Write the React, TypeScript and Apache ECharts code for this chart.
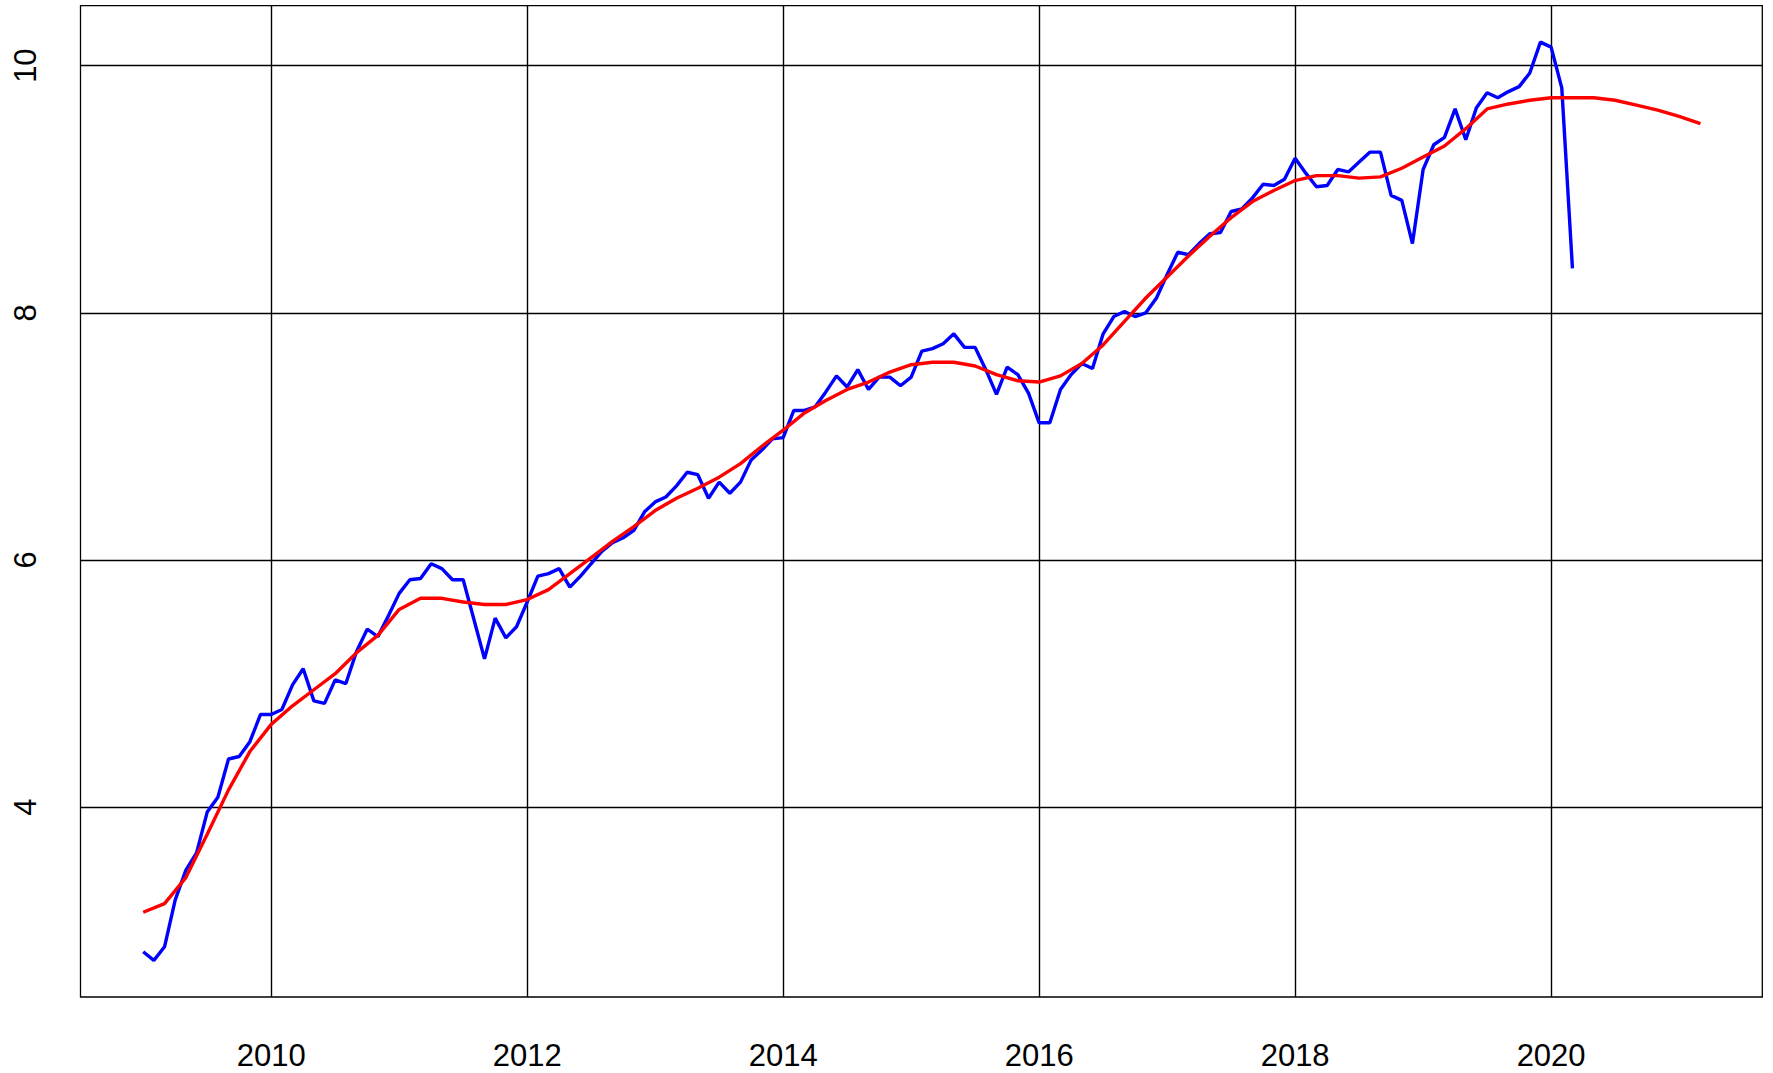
import React, { useEffect, useRef } from "react";
import * as echarts from "echarts";

// Monthly observed series, starting January 2009
const BLUE_START = 2009;
const blueValues = [
  // 2009
  2.83, 2.76, 2.87, 3.25, 3.49, 3.63, 3.96, 4.08, 4.39, 4.41, 4.53, 4.75,
  // 2010
  4.75, 4.79, 4.99, 5.12, 4.86, 4.84, 5.03, 5.0, 5.26, 5.44, 5.38, 5.55,
  // 2011
  5.73, 5.84, 5.85, 5.97, 5.93, 5.84, 5.84, 5.52, 5.2, 5.53, 5.37, 5.46,
  // 2012
  5.66, 5.87, 5.89, 5.93, 5.78, 5.87, 5.97, 6.07, 6.14, 6.18, 6.24, 6.39,
  // 2013
  6.47, 6.51, 6.6, 6.71, 6.69, 6.5, 6.63, 6.54, 6.63, 6.81, 6.89, 6.98,
  // 2014
  6.99, 7.21, 7.21, 7.24, 7.36, 7.49, 7.4, 7.54, 7.38, 7.48, 7.48, 7.41,
  // 2015
  7.48, 7.69, 7.71, 7.75, 7.83, 7.72, 7.72, 7.54, 7.34, 7.56, 7.5, 7.35,
  // 2016
  7.11, 7.11, 7.38, 7.5, 7.59, 7.55, 7.83, 7.97, 8.01, 7.97, 8.0, 8.12,
  // 2017
  8.31, 8.49, 8.47, 8.56, 8.64, 8.65, 8.82, 8.84, 8.93, 9.04, 9.03, 9.08,
  // 2018
  9.25, 9.13, 9.02, 9.03, 9.16, 9.14, 9.22, 9.3, 9.3, 8.95, 8.91, 8.56,
  // 2019
  9.16, 9.36, 9.42, 9.65, 9.4, 9.66, 9.78, 9.74, 9.79, 9.83, 9.94, 10.19,
  // 2020
  10.15, 9.82, 8.36,
];

// Smoothed trend, every two months from January 2009
const RED_START = 2009;
const RED_STEP_MONTHS = 2;
const redValues = [
  3.15, 3.22, 3.43, 3.78, 4.14, 4.45, // 2009
  4.67, 4.82, 4.95, 5.08, 5.25, 5.39, // 2010
  5.6, 5.69, 5.69, 5.66, 5.64, 5.64, // 2011
  5.68, 5.76, 5.89, 6.02, 6.15, 6.27, // 2012
  6.4, 6.5, 6.58, 6.67, 6.78, 6.92, // 2013
  7.05, 7.19, 7.29, 7.38, 7.44, 7.52, // 2014
  7.58, 7.6, 7.6, 7.57, 7.5, 7.45, // 2015
  7.44, 7.49, 7.59, 7.74, 7.93, 8.12, // 2016
  8.29, 8.46, 8.62, 8.77, 8.9, 8.99, // 2017
  9.07, 9.11, 9.11, 9.09, 9.1, 9.17, // 2018
  9.26, 9.35, 9.49, 9.65, 9.69, 9.72, // 2019
  9.74, 9.74, 9.74, 9.72, 9.68, 9.64, // 2020
  9.59, 9.53, // 2021
];

const xTicks = [2010, 2012, 2014, 2016, 2018, 2020];
const yTicks = [4, 6, 8, 10];
const X_MIN = 2008.51;
const X_MAX = 2021.65;
const Y_MIN = 2.464;
const Y_MAX = 10.485;

const FONT = "'Liberation Sans', Arial, Helvetica, sans-serif";

export default function App() {
  const ref = useRef<HTMLDivElement>(null);

  useEffect(() => {
    if (!ref.current) return;
    const chart = echarts.init(ref.current, undefined, { renderer: "svg" });

    const blueData = blueValues.map((v, i) => [BLUE_START + i / 12, v]);
    const redData = redValues.map((v, i) => [RED_START + (i * RED_STEP_MONTHS) / 12, v]);

    const gridLines = [
      ...xTicks.map((x) => ({ xAxis: x })),
      ...yTicks.map((y) => ({ yAxis: y })),
    ];

    const isTick = (list: number[], v: number) =>
      list.some((t) => Math.abs(t - v) < 1e-6);

    chart.setOption({
      animation: false,
      backgroundColor: "#ffffff",
      grid: {
        left: 80.5,
        right: 10.7,
        top: 5.7,
        bottom: 76,
        show: true,
        borderColor: "#000000",
        borderWidth: 1.3,
        backgroundColor: "transparent",
      },
      xAxis: {
        type: "value",
        min: X_MIN,
        max: X_MAX,
        splitNumber: 6,
        axisLine: { show: false },
        axisTick: { show: false },
        splitLine: { show: false },
        axisLabel: {
          customValues: xTicks,
          margin: 43,
          fontSize: 31,
          fontFamily: FONT,
          color: "#000000",
          formatter: (v: number) => (isTick(xTicks, v) ? String(Math.round(v)) : ""),
        },
      },
      yAxis: {
        type: "value",
        min: Y_MIN,
        max: Y_MAX,
        axisLine: { show: false },
        axisTick: { show: false },
        splitLine: { show: false },
        axisLabel: {
          customValues: yTicks,
          rotate: 90,
          margin: 40,
          fontSize: 31,
          fontFamily: FONT,
          color: "#000000",
          formatter: (v: number) => (isTick(yTicks, v) ? String(Math.round(v)) : ""),
        },
      },
      series: [
        {
          name: "observed",
          type: "line",
          data: blueData,
          showSymbol: false,
          symbol: "none",
          z: 3,
          lineStyle: { color: "#0000ff", width: 3.4 },
          itemStyle: { color: "#0000ff" },
          markLine: {
            silent: true,
            z: 1,
            symbol: ["none", "none"],
            label: { show: false },
            lineStyle: { color: "#000000", width: 1.4, type: "solid" },
            emphasis: { disabled: true },
            data: gridLines,
          },
        },
        {
          name: "trend",
          type: "line",
          data: redData,
          showSymbol: false,
          symbol: "none",
          z: 4,
          lineStyle: { color: "#ff0000", width: 3.4 },
          itemStyle: { color: "#ff0000" },
        },
      ],
    });

    return () => chart.dispose();
  }, []);

  return (
    <div
      ref={ref}
      style={{ position: "fixed", left: 0, top: 0, width: 1773, height: 1073, background: "#fff" }}
    />
  );
}
